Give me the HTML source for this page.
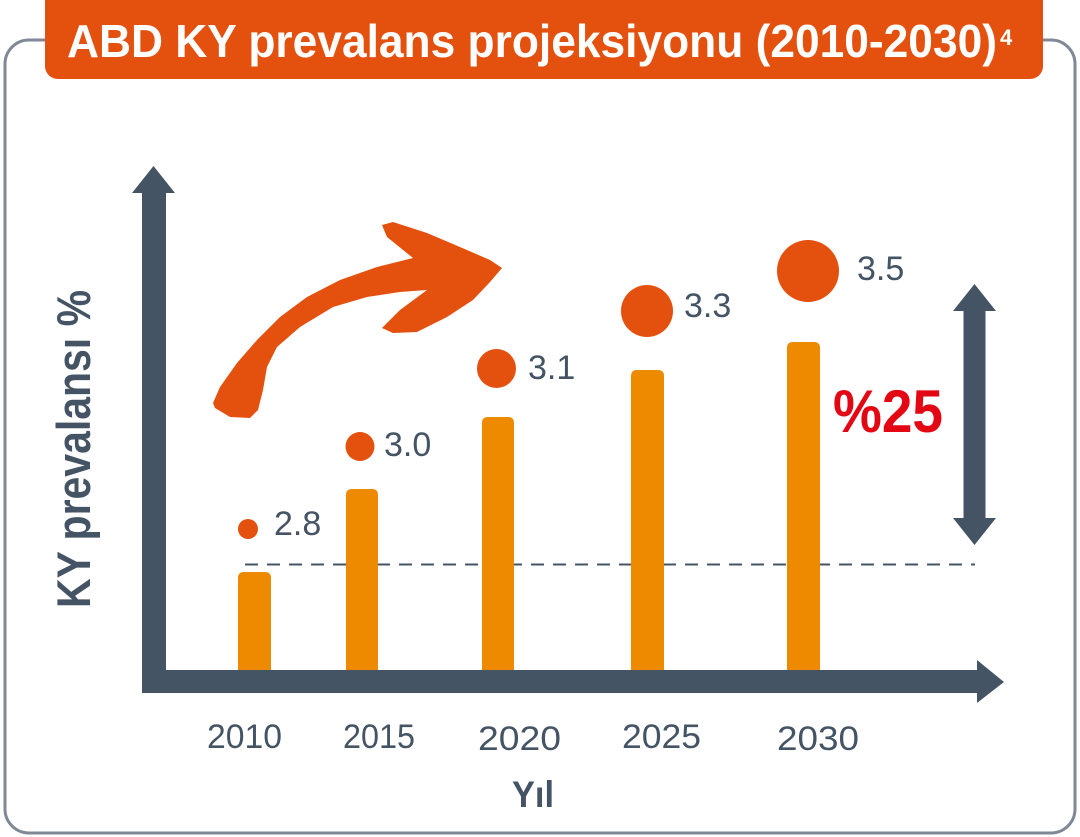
<!DOCTYPE html>
<html>
<head>
<meta charset="utf-8">
<style>
html,body{margin:0;padding:0;background:#fff;}
svg{display:block;}
</style>
</head>
<body>
<svg width="1080" height="837" viewBox="0 0 1080 837" xmlns="http://www.w3.org/2000/svg">
  <rect x="0" y="0" width="1080" height="837" fill="#ffffff"/>
  <!-- frame -->
  <rect x="5" y="40" width="1070" height="793" rx="24" ry="24" fill="#ffffff" stroke="#7f8895" stroke-width="3"/>
  <!-- title box -->
  <rect x="45" y="-14" width="998" height="93" rx="13" ry="13" fill="#e4500e"/>
  <text x="67" y="57" font-family="Liberation Sans, sans-serif" font-weight="bold" font-size="46" fill="#ffffff" textLength="930" lengthAdjust="spacingAndGlyphs">ABD KY prevalans projeksiyonu (2010-2030)</text>
  <text x="1000" y="45" font-family="Liberation Sans, sans-serif" font-weight="bold" font-size="22" fill="#ffffff">4</text>

  <!-- dashed reference line -->
  <line x1="245" y1="564.5" x2="975" y2="564.5" stroke="#455464" stroke-width="2" stroke-dasharray="13 9"/>

  <!-- bars -->
  <g fill="#ee8a00">
    <path d="M238 670 V578 Q238 572 244 572 H265 Q271 572 271 578 V670 Z"/>
    <path d="M346 670 V495 Q346 489 352 489 H372 Q378 489 378 495 V670 Z"/>
    <path d="M482 670 V423 Q482 417 488 417 H508 Q514 417 514 423 V670 Z"/>
    <path d="M631 670 V376 Q631 370 637 370 H658 Q664 370 664 376 V670 Z"/>
    <path d="M787 670 V348 Q787 342 793 342 H814 Q820 342 820 348 V670 Z"/>
  </g>

  <!-- dots -->
  <g fill="#e4500e">
    <circle cx="248" cy="529" r="10"/>
    <circle cx="360" cy="446.5" r="14.5"/>
    <circle cx="496.5" cy="368.5" r="19.5"/>
    <circle cx="647" cy="311" r="26"/>
    <circle cx="808" cy="271" r="31"/>
  </g>

  <!-- value labels -->
  <g font-family="Liberation Sans, sans-serif" font-size="34" fill="#455464">
    <text x="274" y="535">2.8</text>
    <text x="384" y="456">3.0</text>
    <text x="528" y="379">3.1</text>
    <text x="684" y="317">3.3</text>
    <text x="857" y="280">3.5</text>
  </g>

  <!-- axes -->
  <g fill="#455464">
    <rect x="142" y="190" width="24" height="503"/>
    <polygon points="132,193 153.5,166 175,193"/>
    <rect x="142" y="670" width="838" height="23"/>
    <polygon points="977,660 1004,682 977,703"/>
    <!-- double arrow -->
    <rect x="963.5" y="308" width="22" height="213"/>
    <polygon points="953,311 974.5,284 996,311"/>
    <polygon points="953,518 974.5,545 996,518"/>
  </g>

  <!-- %25 -->
  <text x="833" y="432" font-family="Liberation Sans, sans-serif" font-weight="bold" font-size="60" fill="#e30613" textLength="110" lengthAdjust="spacingAndGlyphs">%25</text>

  <!-- year labels -->
  <g font-family="Liberation Sans, sans-serif" font-size="34" fill="#455464">
    <text x="207" y="748" textLength="75" lengthAdjust="spacingAndGlyphs">2010</text>
    <text x="343" y="748" textLength="72" lengthAdjust="spacingAndGlyphs">2015</text>
    <text x="478" y="750" textLength="83" lengthAdjust="spacingAndGlyphs">2020</text>
    <text x="622" y="748" textLength="79" lengthAdjust="spacingAndGlyphs">2025</text>
    <text x="777" y="750" textLength="82" lengthAdjust="spacingAndGlyphs">2030</text>
  </g>
  <text x="512" y="807" font-family="Liberation Sans, sans-serif" font-weight="bold" font-size="37" fill="#455464" textLength="42" lengthAdjust="spacingAndGlyphs">Yıl</text>

  <!-- y axis label -->
  <text transform="translate(90,608) rotate(-90)" x="0" y="0" font-family="Liberation Sans, sans-serif" font-weight="bold" font-size="47" fill="#455464" textLength="318" lengthAdjust="spacingAndGlyphs">KY prevalansı %</text>

  <!-- curved brush arrow -->
  <path fill="#e4500e" d="M213 403 L220 387 L237 363 L257 340 L280 317 L307 297 L340 280 L377 267 L413 258
    L387 237 L382 225 L393 222 L427 233 L460 247 L490 260 L502 268
    L490 282 L473 300 L447 317 L417 332 L393 333 L382 328 L400 310 L427 290
    L400 292 L367 297 L333 307 L300 327 L277 347 L267 367 L263 390 L258 410 L250 418 L230 417 L215 408 Z"/>
</svg>
</body>
</html>
